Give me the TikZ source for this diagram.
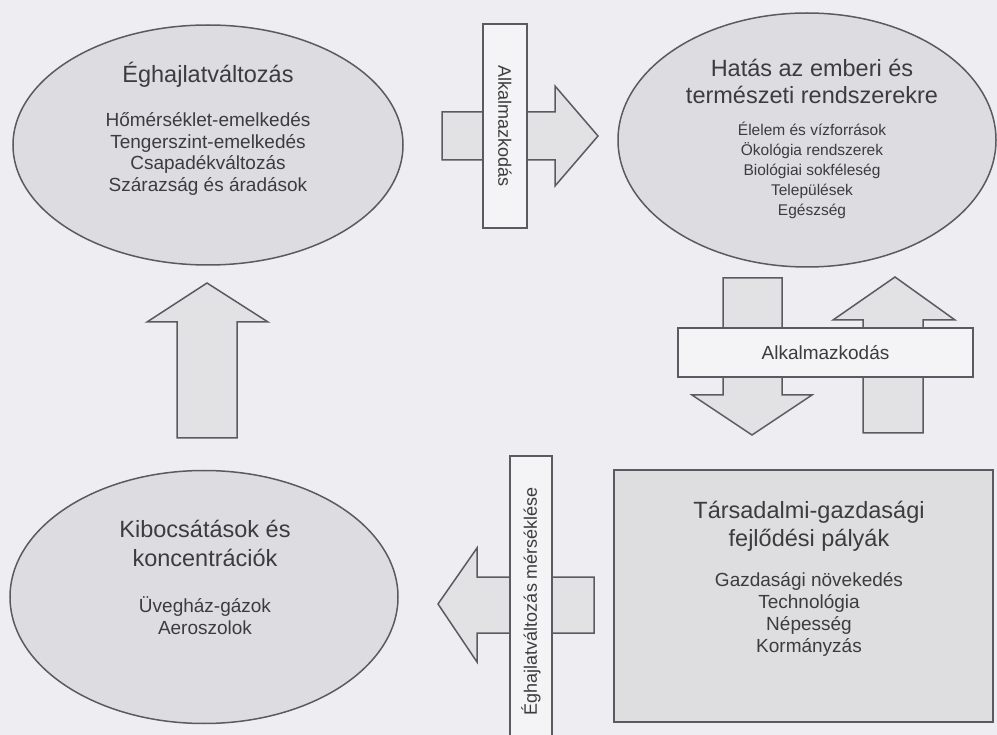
\documentclass[tikz,border=0pt]{standalone}
\usepackage{fontspec}
\setmainfont{Liberation Sans}
\usetikzlibrary{shapes.geometric}
\definecolor{bgc}{RGB}{238,238,242}
\definecolor{ellc}{RGB}{221,221,225}
\definecolor{arrc}{RGB}{226,226,229}
\definecolor{boxc}{RGB}{244,244,246}
\definecolor{rectc}{RGB}{222,222,225}
\definecolor{linec}{RGB}{92,90,94}
\definecolor{txtc}{RGB}{60,60,62}
\tikzset{
  outl/.style={draw=linec, line width=1.5pt, line join=miter},
  ell/.style={outl, ellipse, fill=ellc, inner sep=0pt},
  blockarrow/.style={outl, fill=arrc},
  labelbox/.style={outl, fill=boxc, rectangle, inner sep=0pt, text=txtc},
  titletxt/.style={text=txtc, align=center, inner sep=0pt, font=\fontsize{23.5}{28}\selectfont},
  itemtxt/.style={text=txtc, align=center, inner sep=0pt, font=\fontsize{19}{21.7}\selectfont},
  smallitem/.style={text=txtc, align=center, inner sep=0pt, font=\fontsize{15.5}{20}\selectfont},
}
\begin{document}
\begin{tikzpicture}[x=1pt,y=-1pt]
\useasboundingbox[fill=bgc] (0,0) rectangle (997,735);

% block arrows (drawn first, under the label boxes)
\draw[blockarrow] (442,112) -- (555,112) -- (555,86) -- (598,136) -- (555,186) -- (555,160) -- (442,160) -- cycle;
\draw[blockarrow] (177,438) -- (177,322) -- (147,322) -- (207,283) -- (268,322) -- (237,322) -- (237,438) -- cycle;
\draw[blockarrow] (723,278) -- (782,278) -- (782,395) -- (812,395) -- (752,435) -- (692,395) -- (723,395) -- cycle;
\draw[blockarrow] (863,433) -- (863,320) -- (833,320) -- (895,277) -- (955,320) -- (923,320) -- (923,433) -- cycle;
\draw[blockarrow] (594,577) -- (477,577) -- (477,548) -- (438,604) -- (477,662) -- (477,633) -- (594,633) -- cycle;

% main shapes
\node[ell, minimum width=390pt, minimum height=240pt] (climate) at (208,145) {};
\node[ell, minimum width=378pt, minimum height=254pt] (impact) at (807,140) {};
\node[ell, minimum width=388pt, minimum height=253pt] (emis) at (204,597) {};
\node[outl, fill=rectc, rectangle, minimum width=379pt, minimum height=252pt, inner sep=0pt] (socio) at (803.5,596) {};

% texts
\node[titletxt] (climateT) at (208,75) {Éghajlatváltozás};
\node[itemtxt] (climateI) at (208,154) {Hőmérséklet-emelkedés\\Tengerszint-emelkedés\\Csapadékváltozás\\Szárazság és áradások};

\node[titletxt, font=\fontsize{23.5}{27}\selectfont] (impactT) at (812,81) {Hatás az emberi és\\természeti rendszerekre};
\node[smallitem] (impactI) at (812,170) {Élelem és vízforrások\\Ökológia rendszerek\\Biológiai sokféleség\\Települések\\Egészség};

\node[titletxt, font=\fontsize{23.5}{29}\selectfont] (emisT) at (205,543) {Kibocsátások és\\koncentrációk};
\node[itemtxt, font=\fontsize{19}{22}\selectfont] (emisI) at (205,616) {Üvegház-gázok\\Aeroszolok};

\node[titletxt] (socioT) at (809,526) {Társadalmi-gazdasági\\fejlődési pályák};
\node[itemtxt] (socioI) at (809,614.5) {Gazdasági növekedés\\Technológia\\Népesség\\Kormányzás};

% label boxes
\node[labelbox, rotate=-90, minimum width=204pt, minimum height=44pt, font=\fontsize{18}{20}\selectfont] (adaptTop) at (505,126) {Alkalmazkodás};
\node[labelbox, minimum width=295pt, minimum height=49pt, font=\fontsize{19}{21}\selectfont] (adaptMid) at (825.5,352.5) {Alkalmazkodás};
\node[labelbox, rotate=90, minimum width=290pt, minimum height=42pt, font=\fontsize{18}{20}\selectfont] (mitig) at (531,601) {Éghajlatváltozás mérséklése};
\end{tikzpicture}
\end{document}
